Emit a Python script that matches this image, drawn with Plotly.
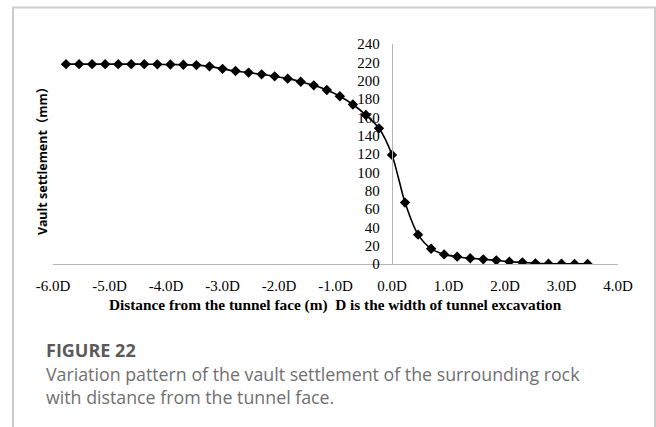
import plotly.graph_objects as go

# ---- data ----
D_m = 13.0  # tunnel excavation width (m); axis ticks are multiples of D
distance_m = [-75, -72, -69, -66, -63, -60, -57, -54, -51, -48, -45, -42, -39, -36,
              -33, -30, -27, -24, -21, -18, -15, -12, -9, -6, -3, 0, 3, 6, 9, 12,
              15, 18, 21, 24, 27, 30, 33, 36, 39, 42, 45]
settlement_mm = [218, 218, 218, 218, 218, 218, 218, 217.8, 217.6, 217.3, 217, 215.6,
                 212.9, 210.5, 208.8, 206.9, 204.7, 202.2, 198.9, 194.9, 189.8, 183,
                 174, 162.5, 148, 119, 67, 32, 16.7, 10.5, 8, 6.2, 5.1, 4, 2.5, 1.8,
                 0.7, 0.3, 0.2, 0.1, 0.1]
x_tick_vals = [-6, -5, -4, -3, -2, -1, 0, 1, 2, 3, 4]
x_tick_text = ["-6.0D", "-5.0D", "-4.0D", "-3.0D", "-2.0D", "-1.0D", "0.0D",
               "1.0D", "2.0D", "3.0D", "4.0D"]
y_tick_vals = list(range(0, 241, 20))

x_D = [d / D_m for d in distance_m]

W, H = 656, 427
L, R, T, B = 53, 38, 44, 163
PW, PH = W - L - R, H - T - B


def px(x):
    return (x - L) / PW


def py(y):
    return (H - B - y) / PH


fig = go.Figure()
fig.add_trace(go.Scatter(
    x=x_D, y=settlement_mm, mode="lines+markers",
    line=dict(color="black", width=1.6, shape="spline", smoothing=0.8),
    marker=dict(symbol="diamond", size=8, color="black"),
    showlegend=False, hoverinfo="x+y"))

serif = "Liberation Serif, Times New Roman, serif"
fig.update_layout(
    width=W, height=H,
    margin=dict(l=L, r=R, t=T, b=B, pad=0),
    paper_bgcolor="white", plot_bgcolor="white",
    font=dict(family=serif, color="black", size=15),
    xaxis=dict(range=[-6, 4], tickvals=x_tick_vals, ticktext=x_tick_text,
               showgrid=False, zeroline=False, showline=True, automargin=False,
               linecolor="#b4b4b4", linewidth=1.3, ticks="",
               tickfont=dict(family=serif, size=15, color="black"),
               ticklabelstandoff=8),
    yaxis=dict(range=[0, 240], tickvals=y_tick_vals, showgrid=False, automargin=False,
               zeroline=False, showline=True, linecolor="#b4b4b4", linewidth=1.3,
               anchor="free", position=0.6, side="left", ticks="",
               tickfont=dict(family=serif, size=15, color="black"),
               ticklabelstandoff=9),
)

cap_font = "Open Sans, sans-serif"
anns = [
    dict(text="<b>Distance from the tunnel face (m)\u00a0\u00a0D is the width of tunnel excavation</b>",
         x=0.5, y=py(305), xref="paper", yref="paper", xanchor="center", yanchor="middle",
         showarrow=False, font=dict(family=serif, size=15.3, color="black")),
    dict(text="<b>Vault settlement（mm）</b>", textangle=-90,
         x=px(42), y=py(158), xref="paper", yref="paper", xanchor="center", yanchor="middle",
         showarrow=False, font=dict(family="Noto Sans, Noto Sans CJK SC, sans-serif", size=12.5, color="black")),
    dict(text="<b>FIGURE 22</b>",
         x=px(44), y=py(350), xref="paper", yref="paper", xanchor="left", yanchor="middle",
         showarrow=False, font=dict(family=cap_font, size=18, color="#5a5a5a")),
    dict(text="Variation pattern of the vault settlement of the surrounding rock",
         x=px(44), y=py(374), xref="paper", yref="paper", xanchor="left", yanchor="middle",
         showarrow=False, font=dict(family=cap_font, size=17.8, color="#707070")),
    dict(text="with distance from the tunnel face.",
         x=px(44), y=py(397), xref="paper", yref="paper", xanchor="left", yanchor="middle",
         showarrow=False, font=dict(family=cap_font, size=17.8, color="#707070")),
]
fig.update_layout(annotations=anns)

# light frame around the figure panel (open at the bottom edge of the page)
fig.add_shape(type="rect", xref="paper", yref="paper", layer="below",
              x0=px(13), x1=px(655), y0=py(445), y1=py(7.5),
              line=dict(color="#cccccc", width=2), fillcolor="rgba(0,0,0,0)")

fig.write_html("out.html", config={"displayModeBar": False},
               post_script="document.body.style.margin='0px';")
